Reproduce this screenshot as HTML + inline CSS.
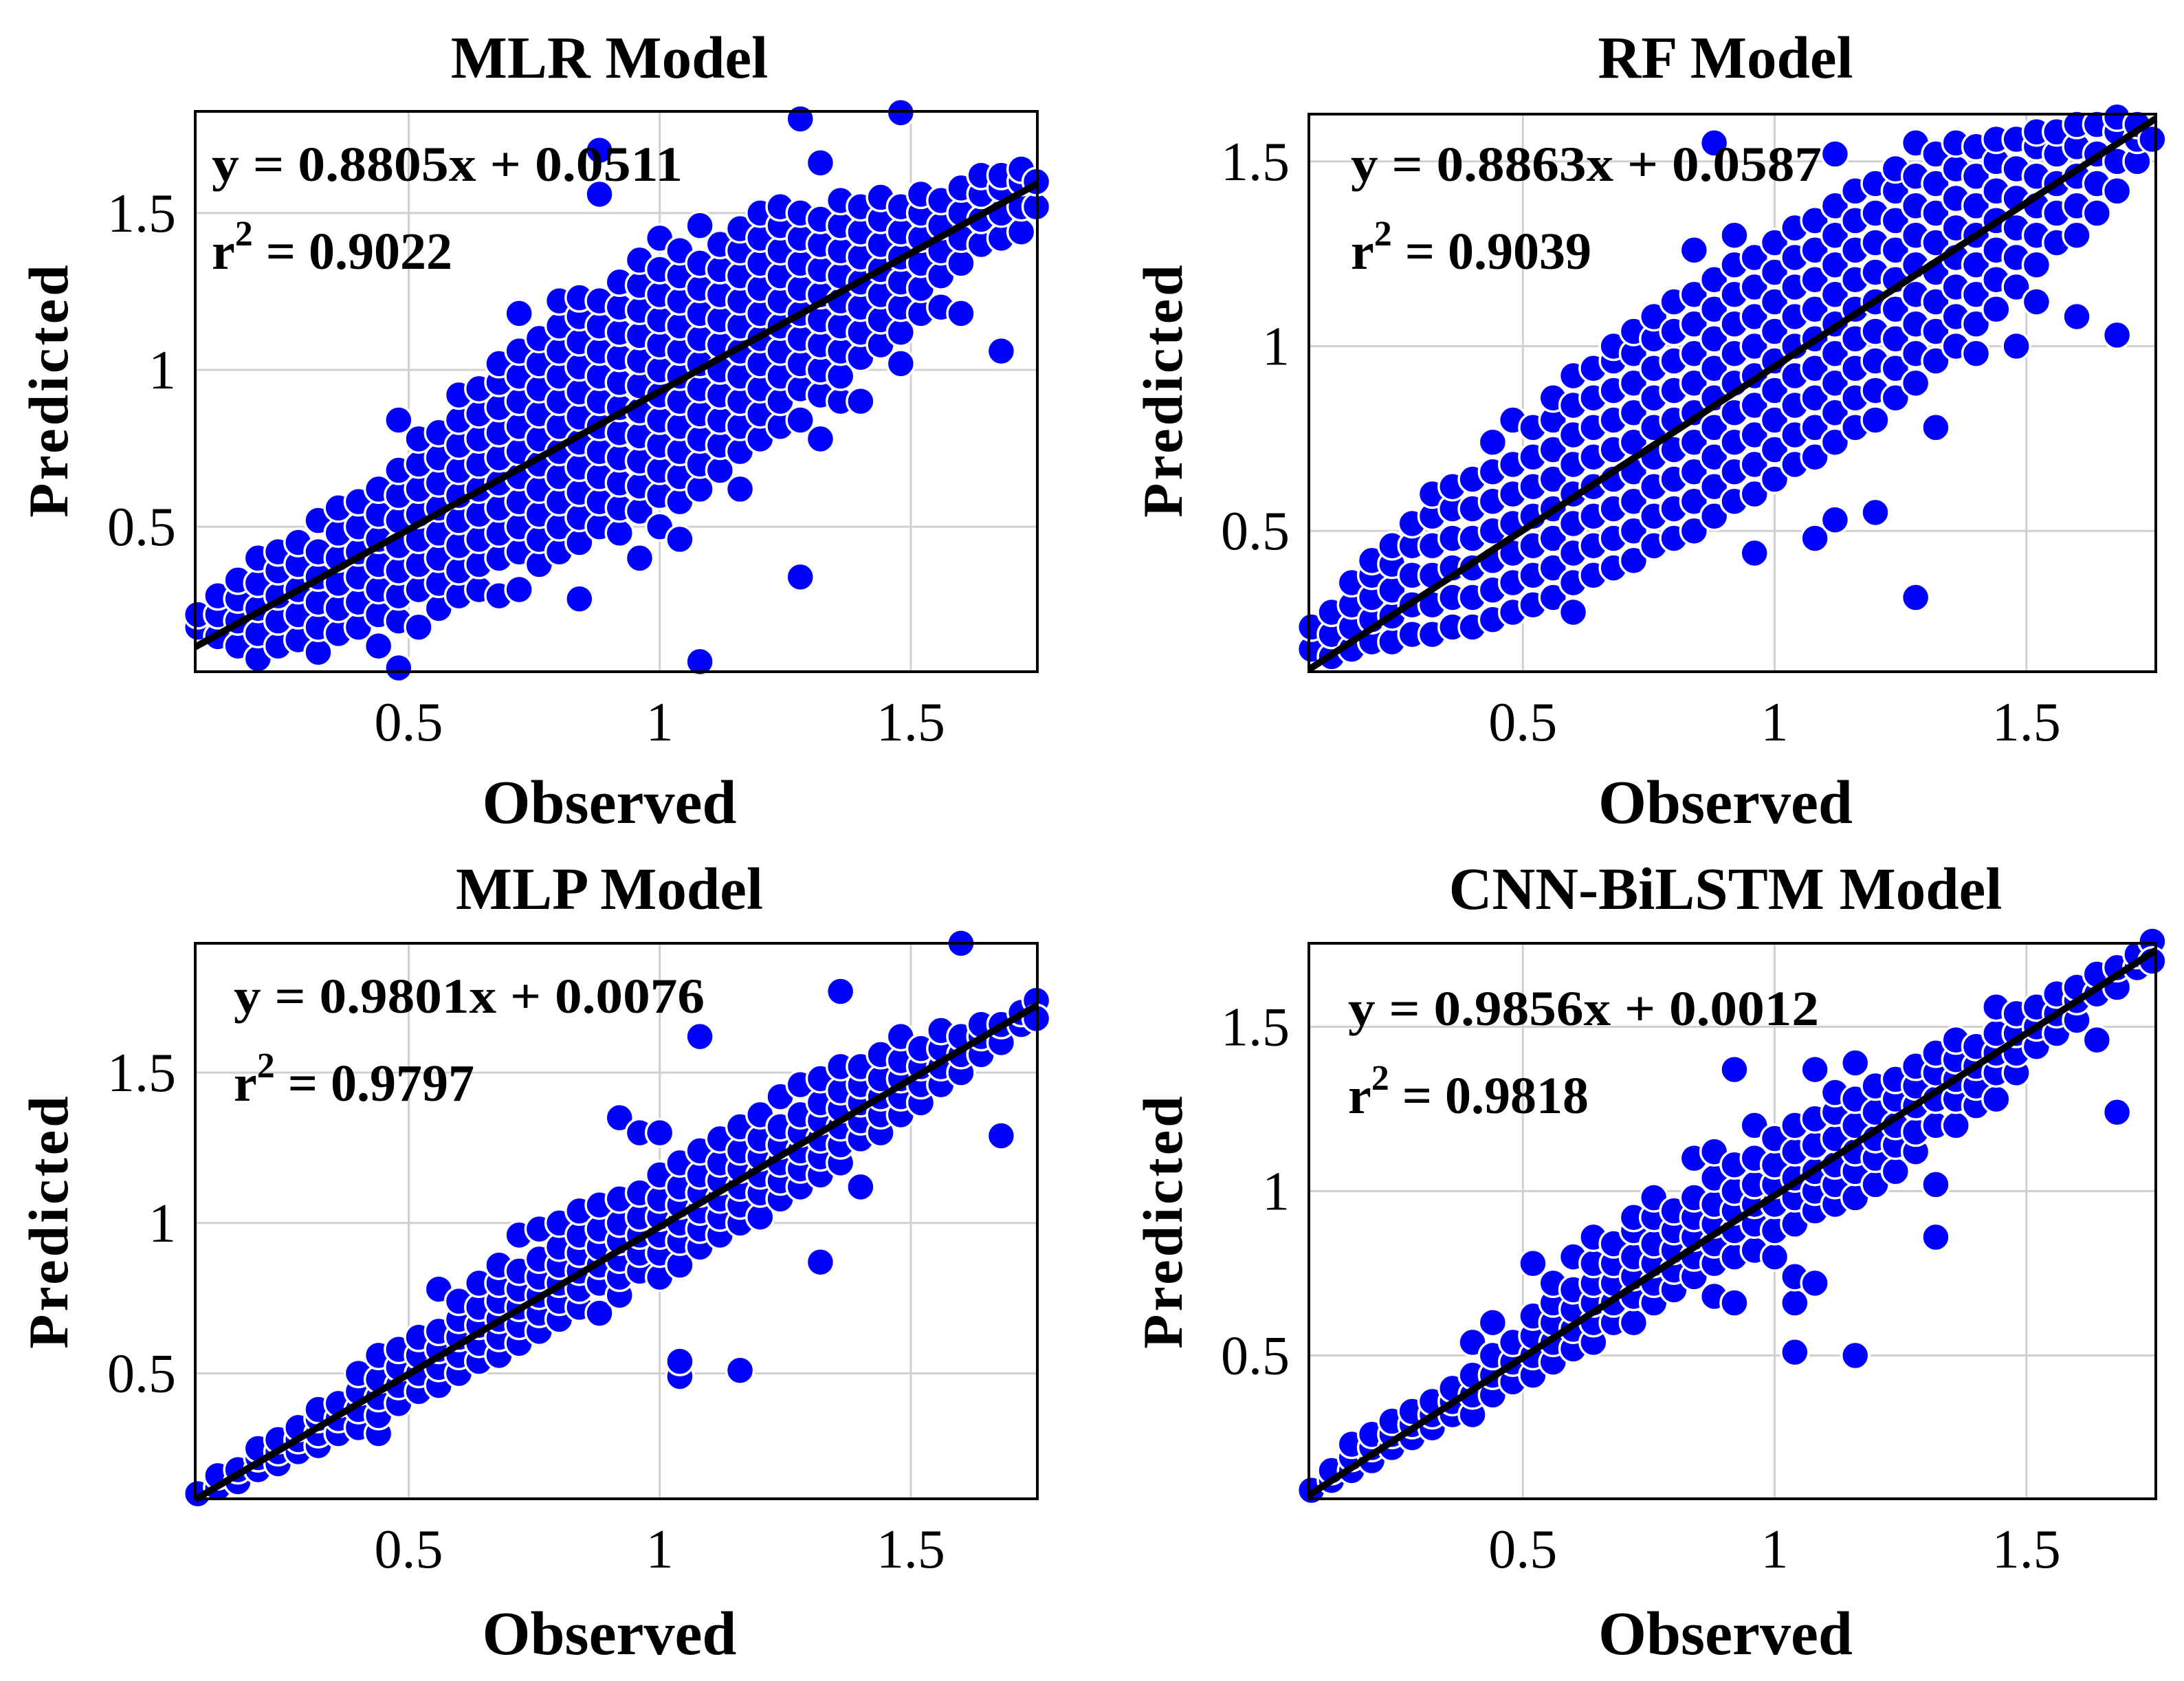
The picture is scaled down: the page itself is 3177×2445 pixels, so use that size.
<!DOCTYPE html>
<html><head><meta charset="utf-8"><style>
html,body{margin:0;padding:0;background:#fff;}
svg{display:block;}
text{font-family:"Liberation Serif",serif;fill:#000;}
</style></head><body>
<svg id="fig" width="3177" height="2445" viewBox="0 0 3177 2445" xmlns="http://www.w3.org/2000/svg"></svg>
<script>
const xTicks = [0.5, 1, 1.5];
const xTickLabels = ["0.5", "1", "1.5"];
const yTicks = [0.5, 1, 1.5];
const yTickLabels = ["0.5", "1", "1.5"];
const titles = ["MLR Model", "RF Model", "MLP Model", "CNN-BiLSTM Model"];
const slopes = [0.8805, 0.8863, 0.9801, 0.9856];
const intercepts = [0.0511, 0.0587, 0.0076, 0.0012];
const eqLabels = ["y = 0.8805x  +  0.0511", "y = 0.8863x  +  0.0587", "y = 0.9801x  +  0.0076", "y = 0.9856x  +  0.0012"];
const r2Labels = ["0.9022", "0.9039", "0.9797", "0.9818"];

const mlrObs = [0.08,0.12,0.16,0.2,0.24,0.28,0.32,0.36,0.4,0.44,0.48,0.52,0.56,0.6,0.64,0.68,0.72,0.76,0.8,0.84,0.88,0.92,0.96,1.0,1.04,1.08,1.12,1.16,1.2,1.24,1.28,1.32,1.36,1.4,1.44,1.48,1.52,1.56,1.6,1.64,1.68,1.72,1.75];
const mlrPred = [[.18,.22],[.15,.22,.28],[.12,.2,.27,.33],[.08,.16,.24,.32,.4],[.12,.2,.28,.36,.42],[.14,.22,.3,.38,.45],[.1,.18,.26,.34,.42,.52],[.16,.24,.32,.4,.48,.56],[.18,.26,.34,.42,.5,.58],[.12,.22,.3,.38,.46,.54,.62],[.05,.2,.28,.36,.44,.52,.6,.68,.84],[.18,.3,.38,.46,.54,.62,.7,.78],[.24,.32,.4,.48,.56,.64,.72,.8],[.28,.36,.44,.52,.6,.68,.76,.84,.92],[.3,.38,.46,.54,.62,.7,.78,.86,.94],[.28,.4,.48,.56,.64,.72,.8,.88,.96,1.02],[.3,.42,.5,.58,.66,.74,.82,.9,.98,1.06,1.18],[.38,.46,.54,.62,.7,.78,.86,.94,1.02,1.1],[.42,.5,.58,.66,.74,.82,.9,.98,1.06,1.14,1.22],[.27,.45,.53,.61,.69,.77,.85,.93,1.01,1.09,1.17,1.23],[.5,.58,.66,.74,.82,.9,.98,1.06,1.14,1.22,1.56,1.7],[.48,.56,.64,.72,.8,.88,.96,1.04,1.12,1.2,1.28],[.4,.55,.63,.71,.79,.87,.95,1.03,1.11,1.19,1.27,1.35],[.5,.6,.68,.76,.84,.92,1.0,1.08,1.16,1.24,1.32,1.42],[.46,.58,.66,.74,.82,.9,.98,1.06,1.14,1.22,1.3,1.38],[.07,.62,.7,.78,.86,.94,1.02,1.1,1.18,1.26,1.34,1.46],[.68,.76,.84,.92,1.0,1.08,1.16,1.24,1.32,1.4],[.62,.74,.82,.9,.98,1.06,1.14,1.22,1.3,1.38,1.45],[.78,.86,.94,1.02,1.1,1.18,1.26,1.34,1.42,1.5],[.82,.9,.98,1.06,1.14,1.22,1.3,1.38,1.46,1.52],[.34,.84,.94,1.02,1.1,1.18,1.26,1.34,1.42,1.5,1.8],[.78,.92,1.0,1.08,1.16,1.24,1.32,1.4,1.48,1.66],[.9,.98,1.06,1.14,1.22,1.3,1.38,1.46,1.54],[.9,1.04,1.12,1.2,1.28,1.36,1.44,1.52],[1.08,1.16,1.24,1.32,1.4,1.48,1.55],[1.02,1.12,1.2,1.28,1.36,1.44,1.52,1.82],[1.18,1.26,1.34,1.42,1.5,1.56],[1.2,1.3,1.38,1.46,1.54],[1.18,1.34,1.42,1.5,1.58],[1.4,1.48,1.56,1.62],[1.06,1.42,1.5,1.58,1.62],[1.44,1.52,1.6,1.64],[1.52,1.6]];

const rfObs = [0.08,0.12,0.16,0.2,0.24,0.28,0.32,0.36,0.4,0.44,0.48,0.52,0.56,0.6,0.64,0.68,0.72,0.76,0.8,0.84,0.88,0.92,0.96,1.0,1.04,1.08,1.12,1.16,1.2,1.24,1.28,1.32,1.36,1.4,1.44,1.48,1.52,1.56,1.6,1.64,1.68,1.72,1.75];
const rfPred = [[.18,.24],[.16,.22,.28],[.18,.24,.3,.36],[.2,.26,.32,.38,.42],[.2,.27,.34,.41,.46],[.22,.3,.38,.46,.52],[.22,.3,.38,.46,.54,.6],[.24,.32,.4,.48,.56,.62],[.24,.32,.4,.48,.56,.64],[.26,.34,.42,.5,.58,.66,.74],[.28,.36,.44,.52,.6,.68,.8],[.3,.38,.46,.54,.62,.7,.78],[.32,.4,.48,.56,.64,.72,.8,.86],[.28,.36,.44,.52,.6,.68,.76,.84,.92],[.38,.46,.54,.62,.7,.78,.86,.94],[.4,.48,.56,.64,.72,.8,.88,.96,1.0],[.42,.5,.58,.66,.74,.82,.9,.98,1.04],[.46,.54,.62,.7,.78,.86,.94,1.02,1.08],[.48,.56,.64,.72,.8,.88,.96,1.04,1.12],[.5,.58,.66,.74,.82,.9,.98,1.06,1.14,1.26],[.54,.62,.7,.78,.86,.94,1.02,1.1,1.18,1.55],[.58,.66,.74,.82,.9,.98,1.06,1.14,1.22,1.3],[.44,.6,.68,.76,.84,.92,1.0,1.08,1.16,1.24],[.64,.72,.8,.88,.96,1.04,1.12,1.2,1.28],[.68,.76,.84,.92,1.0,1.08,1.16,1.24,1.32],[.48,.7,.78,.86,.94,1.02,1.1,1.18,1.26,1.34],[.53,.74,.82,.9,.98,1.06,1.14,1.22,1.3,1.38,1.52],[.78,.86,.94,1.02,1.1,1.18,1.26,1.34,1.42],[.55,.8,.88,.96,1.04,1.12,1.2,1.28,1.36,1.44],[.86,.94,1.02,1.1,1.18,1.26,1.34,1.42,1.48],[.32,.9,.98,1.06,1.14,1.22,1.3,1.38,1.46,1.55],[.78,.96,1.04,1.12,1.2,1.28,1.36,1.44,1.52],[1.0,1.08,1.16,1.24,1.32,1.4,1.48,1.55],[.98,1.06,1.14,1.22,1.3,1.38,1.46,1.54],[1.1,1.18,1.26,1.34,1.42,1.5,1.56],[1.0,1.16,1.24,1.32,1.4,1.48,1.56],[1.12,1.22,1.3,1.38,1.46,1.54,1.58],[1.28,1.36,1.44,1.52,1.58],[1.08,1.3,1.38,1.46,1.54,1.6],[1.36,1.44,1.52,1.6],[1.03,1.42,1.5,1.58,1.62],[1.5,1.56,1.6],[1.56]];

const mlpObs = [0.08,0.12,0.16,0.2,0.24,0.28,0.32,0.36,0.4,0.44,0.48,0.52,0.56,0.6,0.64,0.68,0.72,0.76,0.8,0.84,0.88,0.92,0.96,1.0,1.04,1.08,1.12,1.16,1.2,1.24,1.28,1.32,1.36,1.4,1.44,1.48,1.52,1.56,1.6,1.64,1.68,1.72,1.75];
const mlpPred = [[.1],[.12,.16],[.14,.18],[.18,.22,.25],[.2,.24,.28],[.24,.28,.32],[.26,.3,.35,.38],[.3,.35,.4],[.32,.38,.44,.5],[.3,.36,.42,.48,.56],[.4,.46,.52,.58],[.44,.5,.56,.62],[.46,.52,.58,.64,.78],[.5,.56,.62,.68,.74],[.54,.6,.66,.72,.8],[.56,.62,.68,.74,.8,.86],[.6,.66,.72,.78,.84,.96],[.64,.7,.76,.82,.88,.98],[.68,.74,.8,.86,.92,1.0],[.72,.78,.84,.9,.96,1.04],[.7,.8,.86,.92,.98,1.06],[.76,.82,.88,.94,1.0,1.08,1.35],[.84,.9,.96,1.02,1.1,1.3],[.82,.9,.96,1.02,1.08,1.16,1.3],[.49,.54,.86,.94,1.0,1.06,1.12,1.2],[.92,.98,1.04,1.1,1.16,1.24,1.62],[.96,1.02,1.08,1.14,1.2,1.28],[.51,1.0,1.06,1.12,1.18,1.24,1.32],[1.02,1.1,1.16,1.22,1.28,1.36],[1.08,1.14,1.2,1.26,1.32,1.42],[1.12,1.18,1.24,1.3,1.36,1.46],[.87,1.16,1.22,1.28,1.34,1.4,1.48],[1.2,1.26,1.32,1.38,1.44,1.52,1.77],[1.12,1.28,1.34,1.4,1.46,1.52],[1.3,1.36,1.42,1.48,1.56],[1.36,1.42,1.48,1.54,1.62],[1.4,1.46,1.52,1.58],[1.46,1.52,1.58,1.64],[1.5,1.56,1.62,1.93],[1.56,1.62,1.66],[1.29,1.6,1.66],[1.66,1.7],[1.74,1.68]];

const cnnObs = [0.08,0.12,0.16,0.2,0.24,0.28,0.32,0.36,0.4,0.44,0.48,0.52,0.56,0.6,0.64,0.68,0.72,0.76,0.8,0.84,0.88,0.92,0.96,1.0,1.04,1.08,1.12,1.16,1.2,1.24,1.28,1.32,1.36,1.4,1.44,1.48,1.52,1.56,1.6,1.64,1.68,1.72,1.75];
const cnnPred = [[.09],[.12,.15],[.15,.19,.23],[.18,.22,.26],[.22,.26,.3],[.25,.29,.33],[.28,.32,.36],[.32,.36,.4],[.32,.38,.44,.54],[.38,.44,.5,.6],[.42,.48,.54],[.44,.5,.56,.62,.78],[.48,.54,.6,.66,.72],[.52,.58,.64,.7,.8],[.54,.6,.66,.72,.78,.86],[.6,.66,.72,.78,.84],[.6,.68,.74,.8,.88,.92],[.66,.72,.78,.84,.92,.98],[.7,.76,.82,.88,.94],[.74,.8,.86,.92,.98,1.1],[.68,.78,.84,.9,.96,1.04,1.12],[.66,.8,.88,.94,1.0,1.08,1.37],[.82,.9,.96,1.02,1.1,1.2],[.8,.88,.96,1.02,1.08,1.16],[.51,.66,.74,.9,.98,1.04,1.12,1.2],[.72,.94,1.0,1.06,1.14,1.22,1.37],[.96,1.02,1.08,1.16,1.24,1.3],[.5,.98,1.06,1.12,1.2,1.28,1.39],[1.02,1.1,1.16,1.24,1.32],[1.06,1.14,1.2,1.28,1.34],[1.12,1.18,1.26,1.32,1.38],[.86,1.02,1.2,1.28,1.36,1.42],[1.2,1.28,1.34,1.4,1.46],[1.26,1.32,1.38,1.44],[1.28,1.36,1.42,1.48,1.56],[1.36,1.42,1.48,1.54],[1.44,1.5,1.56],[1.48,1.54,1.6],[1.52,1.58,1.62],[1.46,1.6,1.66],[1.24,1.62,1.68],[1.68,1.72],[1.76,1.7]];

const NS = "http://www.w3.org/2000/svg";
const svg = document.getElementById("fig");
function mk(tag, attrs, parent) {
  const e = document.createElementNS(NS, tag);
  for (const k in attrs) e.setAttribute(k, attrs[k]);
  (parent || svg).appendChild(e);
  return e;
}
const panels = [
  {key:"mlr", obs:mlrObs, pred:mlrPred, l:284, t:162, r:1509, b:977, xd:[0.075,1.752], yd:[0.038,1.824], ox:0, oy:0, eqx:308, eqy:263},
  {key:"rf", obs:rfObs, pred:rfPred, l:1904, t:166, r:3136, b:977, xd:[0.075,1.757], yd:[0.119,1.628], ox:1621, oy:0, eqx:1965, eqy:263},
  {key:"mlp", obs:mlpObs, pred:mlpPred, l:284, t:1372, r:1509, b:2180, xd:[0.075,1.752], yd:[0.083,1.93], ox:0, oy:1209, eqx:340, eqy:1473},
  {key:"cnn", obs:cnnObs, pred:cnnPred, l:1904, t:1372, r:3136, b:2180, xd:[0.075,1.757], yd:[0.064,1.754], ox:1621, oy:1209, eqx:1961, eqy:1491}
];
panels.forEach((p, i) => {
  const g = mk("g", {});
  
  
  const sx = v => p.l + (v - p.xd[0]) / (p.xd[1] - p.xd[0]) * (p.r - p.l);
  const sy = v => p.b - (v - p.yd[0]) / (p.yd[1] - p.yd[0]) * (p.b - p.t);
  xTicks.forEach((v, k) => {
    const ln = mk("line", {x1:sx(v), x2:sx(v), y1:p.t, y2:p.b, stroke:"#d0d0d0", "stroke-width":3}, g);
    
    
    const tl = mk("text", {x:sx(v), y:p.b + 100, "text-anchor":"middle", "font-size":80}, g);
    
    
    tl.textContent = xTickLabels[k];
  });
  yTicks.forEach((v, k) => {
    const ln = mk("line", {x1:p.l, x2:p.r, y1:sy(v), y2:sy(v), stroke:"#d0d0d0", "stroke-width":3}, g);
    
    
    const tl = mk("text", {x:p.l - 28, y:sy(v) + 27, "text-anchor":"end", "font-size":80}, g);
    
    
    tl.textContent = yTickLabels[k];
  });
  const pg = mk("g", {}, g);
  
  
  p.obs.forEach((x, j) => {
    p.pred[j].forEach(y => {
      const c = mk("circle", {cx:sx(x), cy:sy(y), r:20, fill:"#0000ff", stroke:"#ffffff", "stroke-width":3.5}, pg);
      
      
    });
  });
  const x0 = p.xd[0], x1 = p.xd[1];
  const rl = mk("line", {x1:sx(x0), y1:sy(slopes[i]*x0+intercepts[i]), x2:sx(x1), y2:sy(slopes[i]*x1+intercepts[i]), stroke:"#000", "stroke-width":10}, g);
  
  
  const bx = mk("rect", {x:p.l, y:p.t, width:p.r-p.l, height:p.b-p.t, fill:"none", stroke:"#000", "stroke-width":4}, g);
  
  
  const eq = mk("text", {x:p.eqx, y:p.eqy, "font-size":72, "font-weight":"bold", textLength:685, lengthAdjust:"spacingAndGlyphs"}, g);
  
  
  eq.textContent = eqLabels[i];
  const r2 = mk("text", {x:p.eqx, y:p.eqy + 128, "font-size":76, "font-weight":"bold"}, g);
  
  
  r2.innerHTML = 'r<tspan dy="-34" font-size="52">2</tspan><tspan dy="34"> = ' + r2Labels[i] + '</tspan>';
  const cx = (p.l + p.r) / 2;
  const tt = mk("text", {x:cx - 10, y:113 + p.oy, "text-anchor":"middle", "font-size":87, "font-weight":"bold"}, g);
  
  
  tt.textContent = titles[i];
  const xl = mk("text", {x:cx - 10, y:1197 + p.oy, "text-anchor":"middle", "font-size":90, "font-weight":"bold"}, g);
  
  
  xl.textContent = "Observed";
  const yx = 98 + p.ox, yy = 567 + p.oy;
  const yl = mk("text", {x:yx, y:yy, "text-anchor":"middle", "font-size":82, "font-weight":"bold", transform:"rotate(-90 " + yx + " " + yy + ")", "letter-spacing":4}, g);
  
  
  yl.textContent = "Predicted";
});
</script>
</body></html>
